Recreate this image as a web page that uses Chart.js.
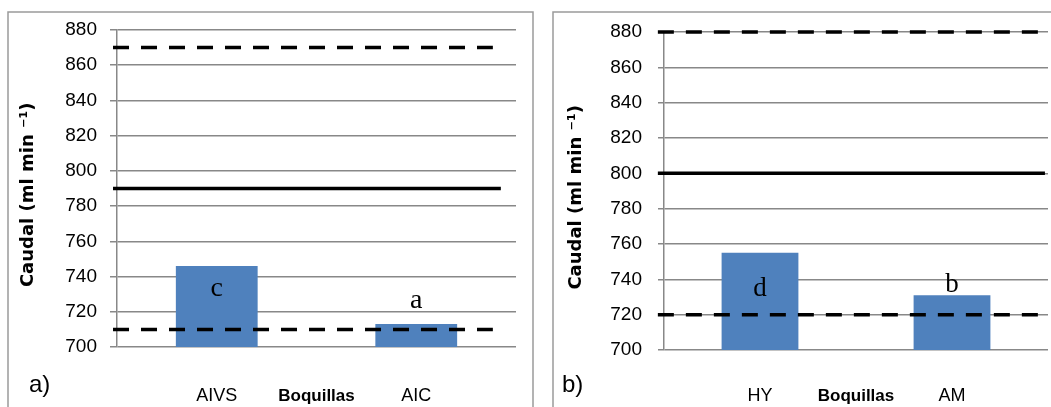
<!DOCTYPE html>
<html><head><meta charset="utf-8">
<script src="https://cdn.jsdelivr.net/npm/chart.js@4.4.0/dist/chart.umd.min.js"></script>
<style>
html,body{margin:0;padding:0;background:#fff;overflow:hidden}
#wrap{position:relative;width:1051px;height:407px;background:#fff}
canvas{position:absolute;top:0}
</style></head><body>
<div id="wrap">
<canvas id="ca" width="545" height="407" style="left:0;width:545px;height:407px"></canvas>
<canvas id="cb" width="506" height="407" style="left:545px;width:506px;height:407px"></canvas>
</div>
<script>
// ---- data ----
const yTickValues = [700, 720, 740, 760, 780, 800, 820, 840, 860, 880];
const categoriesA = ['AIVS', 'AIC'];
const valuesA = [746, 713];
const lettersA = ['c', 'a'];
const limitsA = [870, 790, 710];          // upper (dashed), mean (solid), lower (dashed)
const categoriesB = ['HY', 'AM'];
const valuesB = [755, 731];
const lettersB = ['d', 'b'];
const limitsB = [880, 800, 720];
const xTitle = 'Boquillas';
const yTitle = 'Caudal (ml min \u207B\u00B9)\u00A0\u00A0';
const panelLabels = ['a)', 'b)'];

const GRID = '#888888';
const BAR = '#4F81BD';
const SANS = '"Liberation Sans", Arial, sans-serif';

const panelPlugin = {
  id: 'panel',
  beforeDraw(chart, args, o) {
    const ctx = chart.ctx;
    ctx.save();
    ctx.fillStyle = '#fff';
    ctx.fillRect(0, 0, chart.width, chart.height);
    ctx.strokeStyle = '#9a9a9a';
    ctx.lineWidth = 1.5;
    ctx.strokeRect(o.box[0], o.box[1], o.box[2], o.box[3]);
    ctx.restore();
  },
  afterDatasetsDraw(chart, args, o) {
    const ctx = chart.ctx;
    ctx.save();
    const meta = chart.getDatasetMeta(0);
    const ys = chart.scales.y;
    ctx.fillStyle = '#000';
    ctx.textAlign = 'center';
    ctx.textBaseline = 'middle';
    ctx.font = o.letterFont;
    meta.data.forEach((bar, i) => {
      ctx.fillText(o.letters[i], bar.x, ys.getPixelForValue(o.letterAt[i]));
    });
    ctx.textAlign = 'left';
    ctx.font = '24px ' + SANS;
    ctx.fillText(o.label, o.labelPos[0], o.labelPos[1]);
    ctx.restore();
  }
};

function limitDatasets(limits, dashEnd, solidEnd, start) {
  const styles = [[16, 12], [], [16, 12]];
  return limits.map((v, i) => ({
    type: 'line',
    xAxisID: 'xl',
    yAxisID: 'y',
    data: [{x: start, y: v}, {x: i === 1 ? solidEnd : dashEnd, y: v}],
    borderColor: '#000',
    borderWidth: 3.5,
    borderDash: styles[i],
    borderCapStyle: 'butt',
    pointRadius: 0,
    fill: false,
    clip: false,
    order: 1,
    tension: 0
  }));
}

function makeChart(id, cfg) {
  return new Chart(document.getElementById(id), {
    type: 'bar',
    data: {
      labels: cfg.categories,
      datasets: [{
        type: 'bar',
        data: cfg.values,
        backgroundColor: BAR,
        borderWidth: 0,
        grouped: false,
        barPercentage: cfg.barPct,
        categoryPercentage: 1,
        order: 2
      }].concat(limitDatasets(cfg.limits, cfg.dashEnd, cfg.solidEnd, cfg.start))
    },
    options: {
      responsive: false,
      animation: false,
      events: [],
      layout: {padding: {left: 0, top: cfg.top, right: cfg.right, bottom: 0}},
      plugins: {
        legend: {display: false},
        tooltip: {enabled: false},
        panel: {
          box: cfg.box, letters: cfg.letters, letterAt: cfg.letterAt,
          letterFont: cfg.letterFont, label: cfg.label, labelPos: cfg.labelPos
        }
      },
      scales: {
        x: {
          type: 'category',
          offset: true,
          grid: {display: false, offset: true},
          border: {display: false},
          ticks: {
            color: '#000',
            padding: cfg.xPad,
            font: {family: SANS, size: 18}
          },
          title: {
            display: true, text: xTitle, color: '#000', padding: 0,
            font: {family: SANS, size: 17, weight: 'bold'}
          },
          afterFit(s) { s.height = cfg.xHeight; }
        },
        xl: {
          type: 'linear', display: false, offset: false, min: 0, max: 1, position: 'bottom',
          grid: {offset: false}
        },
        y: {
          type: 'linear',
          min: yTickValues[0],
          max: yTickValues[yTickValues.length - 1],
          grid: {color: GRID, lineWidth: 1.5, tickLength: cfg.tickLen, drawTicks: true},
          border: {display: true, color: GRID, width: 1.5},
          ticks: {
            stepSize: yTickValues[1] - yTickValues[0],
            color: '#000',
            padding: cfg.yPad,
            font: {family: SANS, size: 19}
          },
          title: {
            display: true, text: yTitle, color: '#000',
            padding: {top: cfg.yTitlePad, bottom: 0},
            font: {family: '"DejaVu Sans", Verdana, sans-serif', size: 18, weight: 'bold'}
          },
          afterFit(s) { s.width = cfg.yWidth; }
        }
      }
    },
    plugins: [panelPlugin]
  });
}

makeChart('ca', {
  categories: categoriesA, values: valuesA, limits: limitsA, letters: lettersA,
  letterAt: [733, 726.5], letterFont: '28px "Liberation Serif", "Times New Roman", serif',
  barPct: 0.41, dashEnd: 0.942, solidEnd: 0.962, start: -0.01,
  top: 30, right: 29, xHeight: 60, yWidth: 117, tickLen: 7, yPad: 13, xPad: 30, yTitlePad: 18,
  box: [8, 12, 525, 500], label: panelLabels[0], labelPos: [29, 385]
});

makeChart('cb', {
  categories: categoriesB, values: valuesB, limits: limitsB, letters: lettersB,
  letterAt: [734.5, 737], letterFont: '27px "Liberation Serif", "Times New Roman", serif',
  barPct: 0.40, dashEnd: 0.974, solidEnd: 0.992, start: -0.016,
  top: 32, right: 3, xHeight: 57, yWidth: 119, tickLen: 6, yPad: 16, xPad: 27, yTitlePad: 21,
  box: [8, 12, 600, 500], label: panelLabels[1], labelPos: [17, 385]
});
</script>
</body></html>
